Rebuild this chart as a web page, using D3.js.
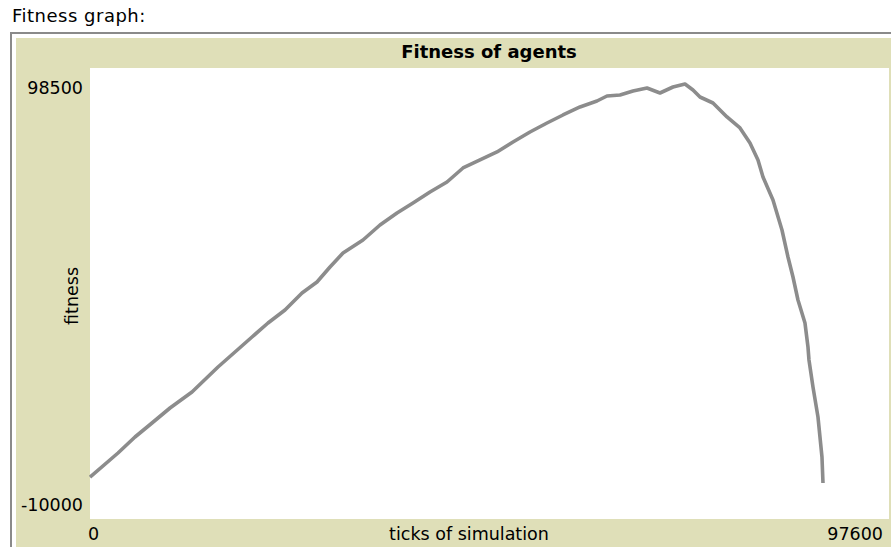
<!DOCTYPE html>
<html><head><meta charset="utf-8">
<script src="https://cdn.jsdelivr.net/npm/d3@7"></script>
<style>html,body{margin:0;padding:0;background:#fff;overflow:hidden}</style>
</head><body>
<svg id="c" width="891" height="547"></svg>
<script>
const ticks = [0,3420,5497,7573,9772,12459,15635,17712,19788,21743,23819,25896,27728,29316,30904,33347,35424,37500,39454,41531,43608,45562,47639,49715,51670,53746,55823,57777,59854,61930,63152,64740,66327,68038,69626,71213,72679,73656,74511,76099,77810,79398,80619,81596,82207,83428,84527,85260,85871,86481,87336,87703,87825,88314,88925,89413,89535];
const fitness = [100,5878,9728,13096,16704,20554,26568,30177,33786,37154,40281,44371,47017,50626,53994,57122,60731,63617,66023,68670,71075,74444,76368,78293,80699,83104,85270,87194,89119,90562,91765,92006,92968,93690,92487,93931,94653,93209,91525,90081,86713,84066,80457,76368,72278,66745,59528,53032,48220,42687,37154,31380,28252,21757,14539,4916,-1339];
const xDomain = [0, 97600];
const yDomain = [-10000, 98500];
const xTickLabels = ["0", "97600"];
const yTickLabels = ["98500", "-10000"];
const widgetLabel = "Fitness graph:";
const title = "Fitness of agents";
const xLabel = "ticks of simulation";
const yLabel = "fitness";

const svg = d3.select("#c");
const font = "'DejaVu Sans', Verdana, sans-serif";
const beige = "#dfdfb8";
const plot = {x0: 90, x1: 889, y0: 68, y1: 519};

// widget label
svg.append("text").attr("x", 12).attr("y", 22).attr("font-family", font).attr("font-size", 18)
  .attr("letter-spacing", 0.5).attr("fill", "#000").text(widgetLabel);
// outer frame
svg.append("rect").attr("x", 11).attr("y", 33).attr("width", 900).attr("height", 600)
  .attr("fill", "#fff").attr("stroke", "#8a8a8a").attr("stroke-width", 2);
// beige panel
svg.append("rect").attr("x", 16).attr("y", 38).attr("width", 880).attr("height", 520).attr("fill", beige);
// plot area
svg.append("rect").attr("x", plot.x0).attr("y", plot.y0).attr("width", plot.x1 - plot.x0)
  .attr("height", plot.y1 - plot.y0).attr("fill", "#fff");

const x = d3.scaleLinear().domain(xDomain).range([plot.x0, plot.x1]);
const y = d3.scaleLinear().domain(yDomain).range([plot.y1, plot.y0]);

// title
svg.append("text").attr("x", 489).attr("y", 58).attr("text-anchor", "middle")
  .attr("font-family", font).attr("font-weight", "bold").attr("font-size", 18).text(title);

// y tick labels
svg.append("text").attr("x", 83).attr("y", 94).attr("text-anchor", "end")
  .attr("font-family", font).attr("font-size", 17.5).text(yTickLabels[0]);
svg.append("text").attr("x", 83).attr("y", 511).attr("text-anchor", "end")
  .attr("font-family", font).attr("font-size", 17.5).text(yTickLabels[1]);
// x tick labels
svg.append("text").attr("x", x(xDomain[0]) - 2).attr("y", 540).attr("text-anchor", "start")
  .attr("font-family", font).attr("font-size", 17.5).text(xTickLabels[0]);
svg.append("text").attr("x", 883).attr("y", 540).attr("text-anchor", "end")
  .attr("font-family", font).attr("font-size", 17.5).text(xTickLabels[1]);
// axis labels
svg.append("text").attr("x", 469).attr("y", 540).attr("text-anchor", "middle")
  .attr("font-family", font).attr("font-size", 17.5).text(xLabel);
svg.append("text").attr("transform", "translate(78,296) rotate(-90)").attr("text-anchor", "middle")
  .attr("font-family", font).attr("font-size", 17.5).text(yLabel);

// line
const data = ticks.map((t, i) => [t, fitness[i]]);
svg.append("path").datum(data)
  .attr("d", d3.line().x(d => x(d[0])).y(d => y(d[1])))
  .attr("fill", "none").attr("stroke", "#8c8c8c").attr("stroke-width", 3.6)
  .attr("stroke-linejoin", "round");
</script>
</body></html>
